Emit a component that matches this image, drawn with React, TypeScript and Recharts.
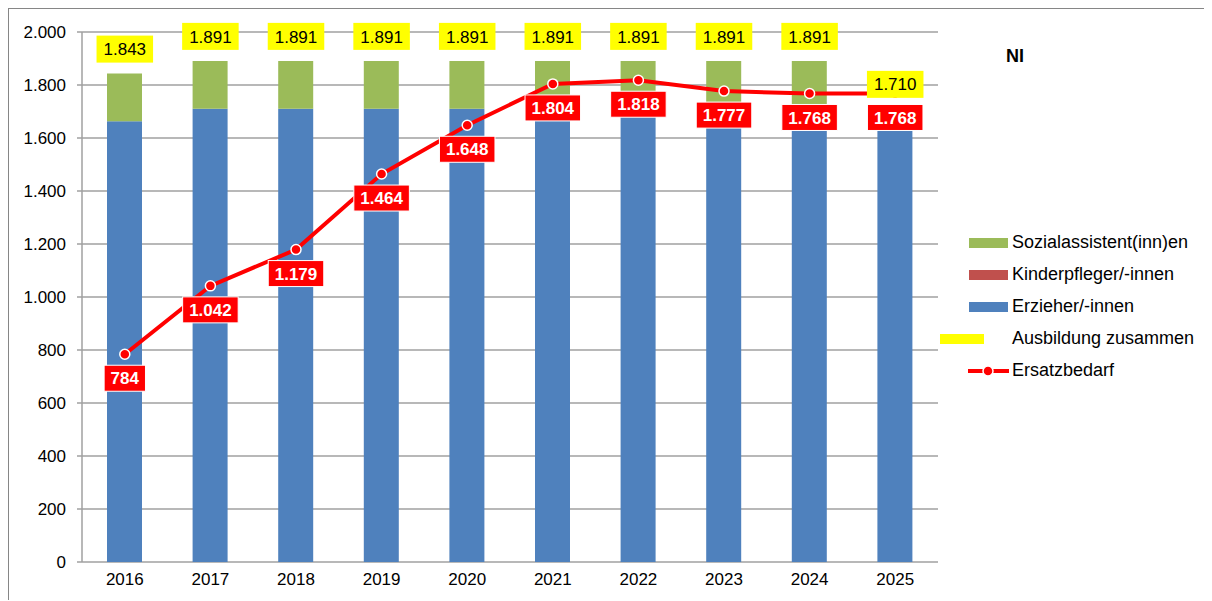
import { ComposedChart, Bar, Line, XAxis, YAxis, CartesianGrid, LabelList } from "recharts";

const years = ["2016", "2017", "2018", "2019", "2020", "2021", "2022", "2023", "2024", "2025"];
const erzieher = [1663, 1710, 1710, 1710, 1710, 1665, 1680, 1640, 1630, 1628];
const kinderpfleger = [0, 0, 0, 0, 0, 0, 0, 0, 0, 0];
const sozialassistent = [180, 181, 181, 181, 181, 226, 211, 251, 261, 82];
const ausbildungZusammen = [1843, 1891, 1891, 1891, 1891, 1891, 1891, 1891, 1891, 1710];
const ersatzbedarf = [784, 1042, 1179, 1464, 1648, 1804, 1818, 1777, 1768, 1768];
const yTicks = [0, 200, 400, 600, 800, 1000, 1200, 1400, 1600, 1800, 2000];
const betweenTicks = [0, 1, 2, 3, 4, 5, 6, 7, 8, 9, 10];

const FONT = "'Liberation Sans', Arial, sans-serif";
const GRID = "#A0A0A0";

const data = years.map((year, i) => ({
    year,
    erzieher: erzieher[i],
    kinderpfleger: kinderpfleger[i],
    sozial: sozialassistent[i],
    ausbildung: ausbildungZusammen[i],
    ersatz: ersatzbedarf[i],
}));

// 1843 -> "1.843"
const fmt = (v: number) => String(v).replace(/\B(?=(\d{3})+(?!\d))/g, ".");

// rough Arial width at 17px: digits 9.45, dot 4.73
const textWidth = (s: string) =>
    s.split("").reduce((w, c) => w + (c === "." ? 4.73 : 9.45), 0);

const YellowLabel = (props: any) => {
    const { x, y, value } = props;
    const text = fmt(value);
    const w = textWidth(text) + 14;
    return (
        <g>
            <rect x={x - w / 2} y={y - 38} width={w} height={27} fill="#FFFF00" />
            <text x={x} y={y - 24.5} dy="0.36em" textAnchor="middle" fontSize={17} fontFamily={FONT} fill="#000">
                {text}
            </text>
        </g>
    );
};

const RedLabel = (props: any) => {
    const { x, y, value } = props;
    const text = fmt(value);
    const w = textWidth(text) + 13;
    return (
        <g>
            <rect x={x - w / 2} y={y + 11} width={w} height={26} fill="#FF0000" stroke="#fff" strokeWidth={1} />
            <text x={x} y={y + 24} dy="0.36em" textAnchor="middle" fontSize={17} fontWeight="bold" fontFamily={FONT} fill="#fff">
                {text}
            </text>
        </g>
    );
};

const legendItems = [
    { name: "Sozialassistent(inn)en", color: "#9BBB59", kind: "bar" },
    { name: "Kinderpfleger/-innen", color: "#C0504D", kind: "bar" },
    { name: "Erzieher/-innen", color: "#4F81BD", kind: "bar" },
    { name: "Ausbildung zusammen", color: "#FFFF00", kind: "box" },
    { name: "Ersatzbedarf", color: "#FF0000", kind: "line" },
];

const LegendSwatch = ({ kind, color }: { kind: string; color: string }) => {
    if (kind === "bar") {
        return <span style={{ position: "absolute", left: 29, top: 11, width: 39, height: 10, background: color }} />;
    }
    if (kind === "box") {
        return <span style={{ position: "absolute", left: 0, top: 11, width: 44, height: 10, background: color }} />;
    }
    return (
        <svg style={{ position: "absolute", left: 27, top: 6 }} width={44} height={20}>
            <line x1={1} y1={10} x2={42} y2={10} stroke={color} strokeWidth={4} />
            <circle cx={21} cy={10} r={5} fill={color} stroke="#fff" strokeWidth={1.5} />
        </svg>
    );
};

export default function App() {
    return (
        <div
            style={{
                position: "relative",
                width: 1202,
                height: 591,
                borderLeft: "1px solid #868686",
                borderTop: "1px solid #868686",
                fontFamily: FONT,
            }}
        >
            <ComposedChart
                width={1202}
                height={591}
                data={data}
                margin={{ top: 23, right: 273, bottom: 8, left: 0 }}
            >
                <CartesianGrid xAxisId="cat" vertical={false} stroke={GRID} strokeWidth={1.5} />
                <XAxis
                    xAxisId="ticks"
                    type="number"
                    domain={[0, 10]}
                    allowDataOverflow
                    ticks={betweenTicks}
                    tickFormatter={() => ""}
                    tickSize={6}
                    height={0}
                    stroke={GRID}
                    strokeWidth={1.5}
                />
                <XAxis
                    xAxisId="cat"
                    dataKey="year"
                    axisLine={false}
                    tickLine={false}
                    tickSize={0}
                    tickMargin={11}
                    height={30}
                    tick={{ fill: "#000", fontSize: 17, fontFamily: FONT }}
                />
                <YAxis
                    width={73}
                    domain={[0, 2000]}
                    ticks={yTicks}
                    interval={0}
                    tickFormatter={fmt}
                    tickSize={5}
                    tickMargin={11}
                    stroke={GRID}
                    strokeWidth={1.5}
                    tick={{ fill: "#000", fontSize: 17, fontFamily: FONT }}
                />
                <Bar xAxisId="cat" dataKey="erzieher" stackId="a" fill="#4F81BD" barSize={35} isAnimationActive={false} />
                <Bar xAxisId="cat" dataKey="kinderpfleger" stackId="a" fill="#C0504D" barSize={35} isAnimationActive={false} />
                <Bar xAxisId="cat" dataKey="sozial" stackId="a" fill="#9BBB59" barSize={35} isAnimationActive={false} />
                <Line
                    xAxisId="cat"
                    dataKey="ersatz"
                    stroke="#FF0000"
                    strokeWidth={4}
                    dot={{ r: 5, fill: "#FF0000", stroke: "#fff", strokeWidth: 1.5 }}
                    activeDot={false}
                    isAnimationActive={false}
                >
                    <LabelList dataKey="ersatz" content={RedLabel} />
                </Line>
                <Line
                    xAxisId="cat"
                    dataKey="ausbildung"
                    stroke="none"
                    dot={false}
                    activeDot={false}
                    isAnimationActive={false}
                >
                    <LabelList dataKey="ausbildung" content={YellowLabel} />
                </Line>
            </ComposedChart>

            <div style={{ position: "absolute", left: 997, top: 37, fontSize: 18, fontWeight: "bold", color: "#000" }}>NI</div>

            <div style={{ position: "absolute", left: 931, top: 218 }}>
                {legendItems.map((item) => (
                    <div key={item.name} style={{ position: "relative", height: 32, width: 270 }}>
                        <LegendSwatch kind={item.kind} color={item.color} />
                        <span style={{ position: "absolute", left: 72, top: 5, fontSize: 18, color: "#000", whiteSpace: "nowrap" }}>
                            {item.name}
                        </span>
                    </div>
                ))}
            </div>
        </div>
    );
}
